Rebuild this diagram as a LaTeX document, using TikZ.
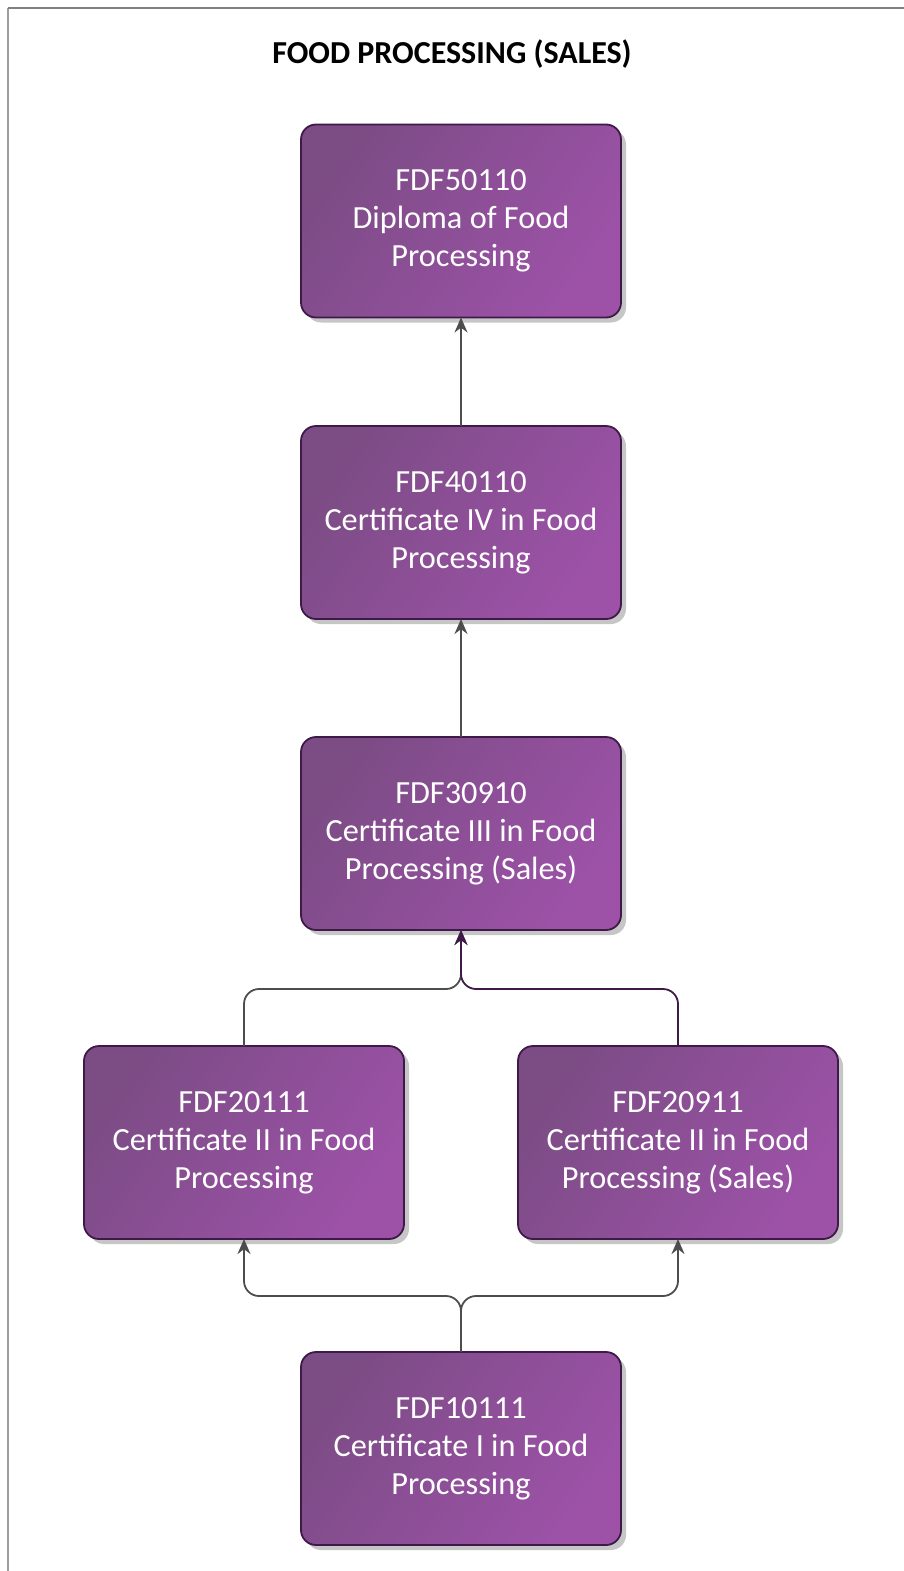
\documentclass[tikz,border=0pt]{standalone}
\usepackage{fontspec}
\setmainfont{Carlito}
\usepackage{tikz}
\usetikzlibrary{positioning, shadows, arrows.meta}
\definecolor{plumdark}{HTML}{7C4C85}
\definecolor{plumlight}{HTML}{9D52A8}
\definecolor{plumedge}{HTML}{3E1A48}
\definecolor{linkgray}{HTML}{4D4D4D}
\definecolor{shadowgray}{HTML}{C6C6C6}

\begin{document}
\begin{tikzpicture}[x=1pt, y=1pt,
            qual/.style={rectangle, rounded corners=15pt, draw=plumedge, line width=1.8pt,
                left color=plumdark, right color=plumlight, shading angle=55,
                drop shadow={shadow xshift=5pt, shadow yshift=-5pt, fill=shadowgray, opacity=1},
                minimum width=320pt, minimum height=193pt, outer sep=0pt,
                text=white, align=center, font=\fontsize{32.3}{38}\selectfont},
            link/.style={draw=linkgray, line width=1.8pt, rounded corners=15pt,
                -{Stealth[length=15pt, width=13pt]}}]
            \useasboundingbox (0,0) rectangle (904,-1571);
            \draw[shadowgray!80!black, line width=1.5pt] (8,-1571) -- (8,-8);
            \draw[gray, line width=1.5pt] (8,-8) -- (904,-8);
            \node[font=\fontsize{32}{38}\selectfont\bfseries] (title) at (452,-54) {FOOD PROCESSING (SALES)};
            \node[qual] (c5) at (461,-221) {FDF50110\\Diploma of Food\\Processing};
            \node[qual] (c4) at (461,-522.5) {FDF40110\\Certificate IV in Food\\Processing};
            \node[qual] (c3) at (461,-833.5) {FDF30910\\Certificate III in Food\\Processing (Sales)};
            \node[qual] (c2a) at (244,-1142.5) {FDF20111\\Certificate II in Food\\Processing};
            \node[qual] (c2b) at (678,-1142.5) {FDF20911\\Certificate II in Food\\Processing (Sales)};
            \node[qual] (c1) at (461,-1448.5) {FDF10111\\Certificate I in Food\\Processing};
            \coordinate (up) at (461,-989);
            \coordinate (down) at (461,-1296);
            \draw[link] (c4.north) -- (c5.south);
            \draw[link] (c3.north) -- (c4.south);
            \draw[link] (c2a.north) |- (up) -- (c3.south);
            \draw[link, draw=plumedge] (c2b.north) |- (up) -- (c3.south);
            \draw[link] (c1.north) -- (down) -| (c2a.south);
            \draw[link] (c1.north) -- (down) -| (c2b.south);
        \end{tikzpicture}
\end{document}
